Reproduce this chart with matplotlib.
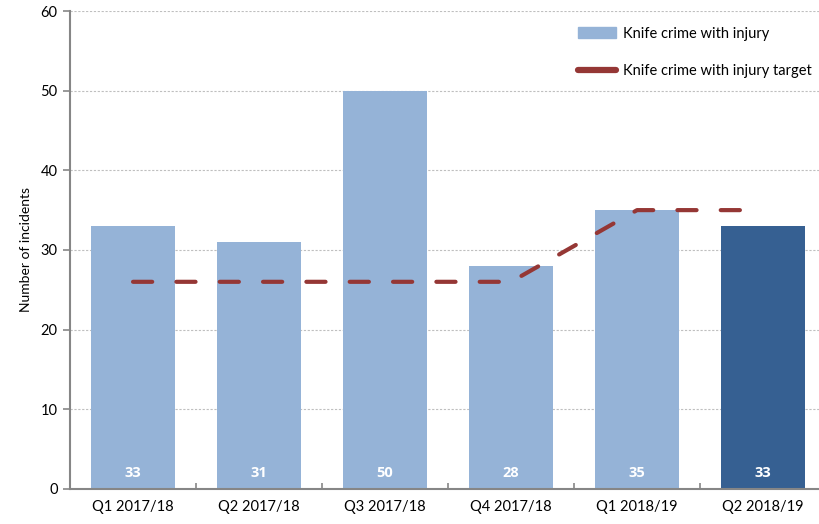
import matplotlib

matplotlib.use("Agg")
import matplotlib.pyplot as plt
from matplotlib.lines import Line2D
from matplotlib.patches import Patch

QUARTERS = ["Q1 2017/18", "Q2 2017/18", "Q3 2017/18", "Q4 2017/18", "Q1 2018/19", "Q2 2018/19"]
INCIDENTS = [33, 31, 50, 28, 35, 33]
TARGET = [26, 26, 26, 26, 35, 35]

C_LIGHT = "#95B3D7"
C_DARK = "#366092"
C_TARGET = "#953735"
C_AXIS = "#868686"

plt.rcParams["font.family"] = ["Lato", "DejaVu Sans"]


def main():
    fig = plt.figure(figsize=(8.2, 5.24), dpi=100)
    # right edge deliberately runs just past the figure, as in the source
    ax = fig.add_axes([0.0854, 0.067, 0.922, 0.912])
    x = list(range(len(QUARTERS)))
    colors = [C_LIGHT] * (len(x) - 1) + [C_DARK]
    ax.bar(x, INCIDENTS, width=0.667, color=colors, zorder=2)
    for xi, v in zip(x, INCIDENTS):
        ax.text(xi, 2, f"{v}", ha="center", va="center", color="white",
                fontsize=10.5, fontweight="bold", family=["Open Sans", "DejaVu Sans"],
                zorder=4)

    (ln,) = ax.plot(x, TARGET, color=C_TARGET, lw=3, zorder=3,
                    solid_capstyle="round", dash_capstyle="round")
    ln.set_dashes([4.6, 5.8])

    ax.set_xlim(-0.5, 5.5)
    ax.set_ylim(0, 60)
    ax.set_yticks(range(0, 61, 10))
    ax.yaxis.grid(True, color="#BFBFBF", lw=0.8, ls=(0, (2, 1.5)), zorder=0)
    ax.set_axisbelow(True)

    ax.set_xticks(x)
    ax.set_xticklabels(QUARTERS, fontsize=10.5)
    ax.set_xticks([i - 0.5 for i in range(len(x) + 1)], minor=True)
    ax.tick_params(axis="x", which="major", length=0, pad=8)
    ax.tick_params(axis="x", which="minor", direction="in", length=4,
                   color=C_AXIS, width=1.2)
    ax.tick_params(axis="y", direction="out", length=5, color=C_AXIS,
                   width=1.2, labelsize=10.5, pad=4)

    for s in ["top", "right"]:
        ax.spines[s].set_visible(False)
    for s in ["left", "bottom"]:
        ax.spines[s].set_color(C_AXIS)
        ax.spines[s].set_linewidth(1.5)

    ax.set_ylabel("Number of incidents", fontsize=10, labelpad=6)

    handles = [
        Patch(color=C_LIGHT, label="Knife crime with injury"),
        Line2D([0], [0], color=C_TARGET, lw=4.5, solid_capstyle="round",
               label="Knife crime with injury target"),
    ]
    ax.legend(handles=handles, loc="upper right", frameon=False, fontsize=10.5,
              bbox_to_anchor=(0.999, 0.995), handlelength=2.6, labelspacing=1.6,
              handletextpad=0.5)

    fig.savefig("out.png", dpi=100)
    plt.close(fig)


if __name__ == "__main__":
    main()
